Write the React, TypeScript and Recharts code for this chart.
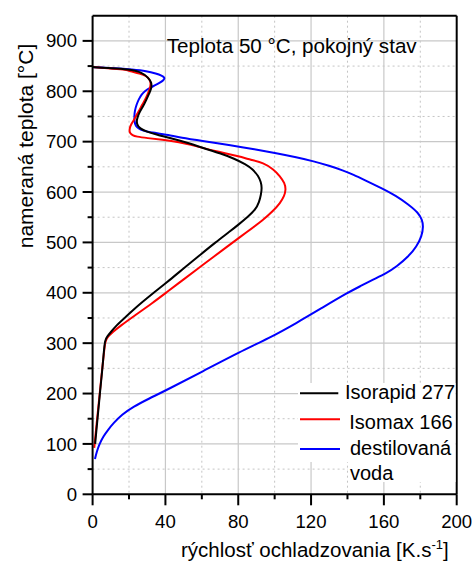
import React from 'react';
import { LineChart, Line, XAxis, YAxis, ReferenceLine, Customized, Legend } from 'recharts';

const xDomain = [0, 200];
const yDomain = [0, 950];
const xTicks = [0, 20, 40, 60, 80, 100, 120, 140, 160, 180, 200];
const xMajor = [0, 40, 80, 120, 160, 200];
const yTicks = [0, 50, 100, 150, 200, 250, 300, 350, 400, 450, 500, 550, 600, 650, 700, 750, 800, 850, 900];
const yMajor = [0, 100, 200, 300, 400, 500, 600, 700, 800, 900];
const xGridMajor = [40, 80, 120, 160];
const xGridMinor = [20, 60, 100, 140, 180];
const yGridMajor = [100, 200, 300, 400, 500, 600, 700, 800, 900];
const yGridMinor = [50, 150, 250, 350, 450, 550, 650, 750, 850];

const seriesNames = ['Isorapid 277', 'Isomax 166', 'destilovaná voda'];
const seriesColors = ['#000000', '#ff0000', '#0000ff'];

const isorapidTemp = [848, 846, 844, 838, 827, 817, 805, 795, 783, 771, 757, 744, 734, 726, 720, 714, 706, 697, 687, 677, 666, 655, 645, 632, 620, 608, 595, 580, 565, 550, 535, 522, 500, 475, 450, 426, 400, 380, 366, 350, 335, 322, 313, 307, 280, 250, 200, 150, 100];
const isorapidRate = [0, 8, 20, 27, 30.6, 32.5, 32.3, 31, 29.5, 27.9, 25.5, 24.2, 24.3, 26, 29.7, 35, 44, 53, 61, 70, 78, 84, 88, 91, 92.5, 93, 92.5, 91.5, 89.5, 85, 80, 75.5, 67.5, 59, 50.5, 42.6, 33.5, 26.8, 22.4, 17.5, 13, 10, 8, 6.8, 6.1, 5.4, 4.0, 2.7, 1.4];

const isomaxTemp = [848, 846, 843, 840, 835, 830, 824, 817, 808, 797, 784, 772, 764, 752, 741, 733, 728, 722, 717, 713, 710, 707, 704, 699, 694, 688, 680, 671, 664, 658, 645, 631, 618, 605, 592, 578, 562, 545, 520, 496, 470, 450, 426, 400, 380, 353, 335, 322, 313, 306, 280, 250, 200, 150, 92];
const isomaxRate = [0, 8, 18, 20.5, 26, 29.7, 31.2, 32, 31.7, 30.6, 29, 27, 26, 24, 22.4, 21, 20.5, 20.2, 20.5, 21.8, 24, 30, 38, 48, 54, 60, 69, 80, 87, 93.8, 99.5, 103, 105.5, 106.2, 105.3, 103, 99, 93.8, 84.5, 75.5, 66, 58.5, 49.8, 40.3, 33, 22.4, 15.5, 11, 8.5, 7, 6.2, 5.3, 3.9, 2.5, 0.9];

const vodaTemp = [848, 847, 846, 843, 840, 835, 831, 827, 822, 817, 812, 807, 800, 794, 784, 774, 762, 751, 742, 734, 728, 724, 720, 718, 713, 708, 701, 693, 685, 677, 669, 661, 652, 643, 634, 625, 608, 592, 575, 559, 545, 532, 512, 492, 472, 452, 439, 426, 413, 400, 370, 340, 310, 283, 245, 207, 190, 174, 158, 141, 128, 115, 100, 85, 70];
const vodaRate = [0, 5, 11.4, 22, 29.7, 35, 38, 39.8, 39, 37, 34.5, 31.5, 28.5, 27, 25.3, 24.2, 23.2, 22.9, 23, 23.3, 24.5, 26, 30, 33.3, 42, 48, 61, 76, 89, 101, 112, 121.5, 130, 137.5, 143.5, 148.7, 158.5, 167, 173.5, 178.9, 181, 181.7, 180.8, 178, 173.5, 167, 161.5, 154, 147, 140, 126, 112, 97, 81, 61, 40.7, 31, 22.4, 16, 11.4, 8.5, 5.9, 3.8, 2.3, 1.3];

const toData = (temps: number[], rates: number[]) => temps.map((t, i) => ({ rate: rates[i], temp: t }));
const isorapidData = toData(isorapidTemp, isorapidRate);
const isomaxData = toData(isomaxTemp, isomaxRate);
const vodaData = toData(vodaTemp, vodaRate);

const FONT = '"Liberation Sans", Arial, Helvetica, sans-serif';
const MARGIN = { top: 15.7, right: 19.3, left: 0, bottom: 0 };
const W = 476;
const H = 563;
const Y_AXIS_W = 92.6;
const X_AXIS_H = 68.7;

const XTick = (props: any) => {
  const { x, y, payload } = props;
  const major = xMajor.includes(payload.value);
  return (
    <g>
      <line x1={x} x2={x} y1={y} y2={y + (major ? 11 : 5)} stroke="#000" strokeWidth={2} />
      {major && (
        <text x={x} y={y + 33.4} textAnchor="middle" fontSize={18.6} fontFamily={FONT} fill="#000">
          {payload.value}
        </text>
      )}
    </g>
  );
};

const YTick = (props: any) => {
  const { x, y, payload } = props;
  const major = yMajor.includes(payload.value);
  return (
    <g>
      <line x1={x - (major ? 10 : 5)} x2={x} y1={y} y2={y} stroke="#000" strokeWidth={2} />
      {major && (
        <text x={x - 15.6} y={y + 6.6} textAnchor="end" fontSize={18.6} fontFamily={FONT} fill="#000">
          {payload.value}
        </text>
      )}
    </g>
  );
};

const PLOT_LEFT = MARGIN.left + Y_AXIS_W;
const PLOT_TOP = MARGIN.top;
const PLOT_W = W - MARGIN.left - MARGIN.right - Y_AXIS_W;
const PLOT_H = H - MARGIN.top - MARGIN.bottom - X_AXIS_H;
const sx = (v: number) => PLOT_LEFT + (PLOT_W * (v - xDomain[0])) / (xDomain[1] - xDomain[0]);
const sy = (v: number) => PLOT_TOP + PLOT_H - (PLOT_H * (v - yDomain[0])) / (yDomain[1] - yDomain[0]);

const Decor = () => (
  <g>
    <g>
      {xGridMinor.map((v) => (
        <line key={'xm' + v} x1={sx(v)} x2={sx(v)} y1={PLOT_TOP} y2={PLOT_TOP + PLOT_H} stroke="#c4c4c4" strokeWidth={1} strokeDasharray="2 3" />
      ))}
      {yGridMinor.map((v) => (
        <line key={'ym' + v} x1={PLOT_LEFT} x2={PLOT_LEFT + PLOT_W} y1={sy(v)} y2={sy(v)} stroke="#c4c4c4" strokeWidth={1} strokeDasharray="2 3" />
      ))}
      {xGridMajor.map((v) => (
        <line key={'xM' + v} x1={sx(v)} x2={sx(v)} y1={PLOT_TOP} y2={PLOT_TOP + PLOT_H} stroke="#c8c8c8" strokeWidth={1.2} />
      ))}
      {yGridMajor.map((v) => (
        <line key={'yM' + v} x1={PLOT_LEFT} x2={PLOT_LEFT + PLOT_W} y1={sy(v)} y2={sy(v)} stroke="#c8c8c8" strokeWidth={1.2} />
      ))}
    </g>
    <g fontFamily={FONT} fill="#000">
      <text x={166.7} y={52.7} fontSize={20.5} textLength={250} lengthAdjust="spacingAndGlyphs">
        Teplota 50 °C, pokojný stav
      </text>
      <text x={181} y={557.3} fontSize={20.5}>
        rýchlosť ochladzovania [K.s<tspan dy={-8} fontSize={13}>-1</tspan><tspan dy={8}>]</tspan>
      </text>
      <text x={33} y={146} fontSize={21} textAnchor="middle" transform="rotate(-90 33 146)">
        nameraná teplota [°C]
      </text>
    </g>
  </g>
);

const LegendBox = () => (
  <svg width={158} height={100} style={{ display: 'block', overflow: 'visible' }}>
    <rect x={0} y={0} width={157.5} height={79} fill="#fff" />
    <rect x={50} y={79} width={107.5} height={20} fill="#fff" />
    <g fontFamily={FONT} fontSize={20} fill="#000">
      <line x1={2} x2={40.3} y1={10.3} y2={10.3} stroke={seriesColors[0]} strokeWidth={2} />
      <text x={47} y={16.3}>{seriesNames[0]}</text>
      <line x1={2} x2={42} y1={36.3} y2={36.3} stroke={seriesColors[1]} strokeWidth={2} />
      <text x={51.3} y={46.3}>{seriesNames[1]}</text>
      <line x1={2} x2={42} y1={66} y2={66} stroke={seriesColors[2]} strokeWidth={2} />
      <text x={52} y={72}>{seriesNames[2].split(' ')[0]}</text>
      <text x={52} y={97}>{seriesNames[2].split(' ')[1]}</text>
    </g>
  </svg>
);

export default function App() {
  return (
    <div style={{ width: W, height: H, position: 'relative' }}>
      <style>{'body{margin:0;}'}</style>
      <LineChart width={W} height={H} margin={MARGIN}>
        <XAxis
          type="number"
          dataKey="rate"
          domain={xDomain}
          ticks={xTicks}
          interval={0}
          height={X_AXIS_H}
          tickSize={0}
          tickMargin={0}
          tickLine={false}
          tick={<XTick />}
          axisLine={{ stroke: '#000', strokeWidth: 2 }}
          allowDataOverflow
        />
        <YAxis
          type="number"
          dataKey="temp"
          domain={yDomain}
          ticks={yTicks}
          interval={0}
          width={Y_AXIS_W}
          tickSize={0}
          tickMargin={0}
          tickLine={false}
          tick={<YTick />}
          axisLine={{ stroke: '#000', strokeWidth: 2 }}
          allowDataOverflow
        />
        <Line name={seriesNames[2]} data={vodaData} dataKey="temp" type="basis" stroke={seriesColors[2]} strokeWidth={2} dot={false} isAnimationActive={false} />
        <Line name={seriesNames[1]} data={isomaxData} dataKey="temp" type="basis" stroke={seriesColors[1]} strokeWidth={2} dot={false} isAnimationActive={false} />
        <Line name={seriesNames[0]} data={isorapidData} dataKey="temp" type="basis" stroke={seriesColors[0]} strokeWidth={2} dot={false} isAnimationActive={false} />
        <Customized component={<Decor />} />
        <Legend
          layout="vertical"
          align="center"
          verticalAlign="middle"
          content={() => <LegendBox />}
          wrapperStyle={{ position: 'absolute', left: 298, top: 383, width: 158, height: 100, margin: 0, padding: 0 }}
        />
        <ReferenceLine y={950} stroke="#000" strokeWidth={2} />
        <ReferenceLine x={200} stroke="#000" strokeWidth={2} />
      </LineChart>
    </div>
  );
}
